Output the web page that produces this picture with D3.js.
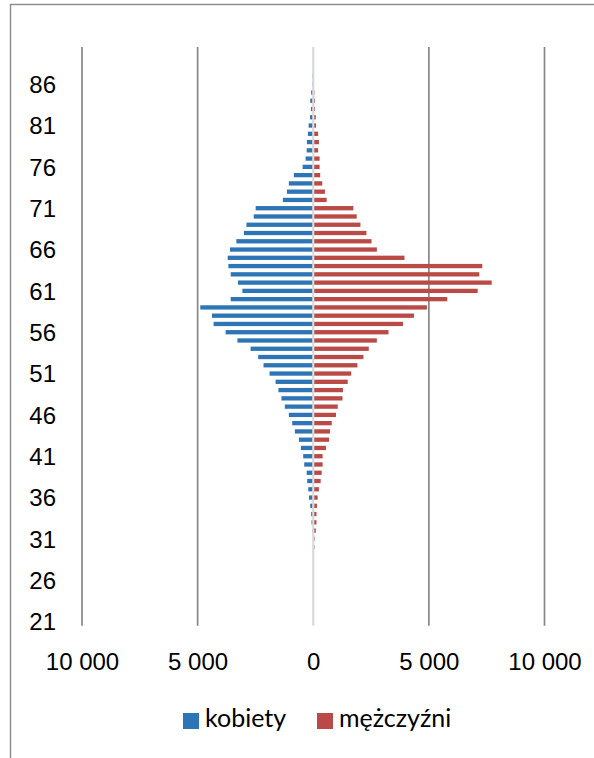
<!DOCTYPE html>
<html lang="pl">
<head>
  <meta charset="UTF-8" />
  <title>Piramida wieku: kobiety i mężczyźni</title>
  <script src="https://d3js.org/d3.v7.min.js"></script>
  <style>
    html, body { margin: 0; padding: 0; background: #fff; }
    svg { display: block; font-family: Lato, "Open Sans", sans-serif; }
    .tick-label { font-size: 24px; fill: #000; }
    .legend-label { font-size: 25px; fill: #000; }
  </style>
</head>
<body>
  <svg id="chart" width="594" height="758"></svg>

  <script>
    // Wiek (kategorie), od 21 do 90
    const ages = d3.range(21, 91);
    // Liczba kobiet w danym wieku (odczyt z wykresu)
    const kobiety = [
      0, 0, 0, 0, 0, 0, 0, 0, 0, 0,             // 21-30
      5, 30, 75, 90, 130, 185, 215, 260, 285, 390,  // 31-40
      435, 535, 620, 795, 910, 1055, 1230, 1375, 1505, 1630, // 41-50
      1890, 2150, 2380, 2710, 3280, 3790, 4310, 4380, 4885, 3570, // 51-60
      3065, 3255, 3570, 3670, 3700, 3600, 3325, 3000, 2890, 2575, // 61-70
      2490, 1315, 1140, 1055, 840, 460, 330, 285, 275, 230,  // 71-80
      200, 140, 100, 130, 90, 40, 40, 0, 0, 0        // 81-90
    ];
    // Liczba mężczyzn w danym wieku
    const mezczyzni = [
      0, 0, 0, 0, 0, 10, 15, 30, 30, 50,
      60, 110, 140, 140, 160, 190, 245, 320, 365, 405,
      405, 550, 680, 725, 800, 985, 1060, 1265, 1285, 1490,
      1640, 1910, 2170, 2400, 2750, 3255, 3880, 4355, 4915, 5795,
      7110, 7715, 7180, 7310, 3945, 2750, 2520, 2300, 2040, 1880,
      1735, 580, 505, 390, 300, 275, 275, 210, 245, 210,
      120, 110, 70, 70, 50, 30, 20, 0, 0, 0
    ];
    const xTicks = [-10000, -5000, 0, 5000, 10000];
    const yTickAges = d3.range(21, 91, 5);
    const seriesNames = ["kobiety", "mężczyźni"];
    const colors = ["#2e75b6", "#b94a45"];

    const svg = d3.select("#chart");

    // ramka wykresu (wychodzi poza prawą i dolną krawędź)
    svg.append("rect")
       .attr("x", 10.5).attr("y", 4.5)
       .attr("width", 700).attr("height", 800)
       .attr("fill", "none")
       .attr("stroke", "#8a8a8a")
       .attr("stroke-width", 1.4);

    // skale
    const x = d3.scaleLinear().domain([-10000, 10000]).range([82, 544.5]);
    const y = d3.scaleBand()
                .domain(ages.slice().reverse())
                .range([47, 625.7])
                .paddingInner(0.48)
                .paddingOuter(0.24);

    // linie siatki pionowej
    svg.append("g")
       .selectAll("line")
       .data(xTicks.filter(d => d !== 0))
       .enter().append("line")
       .attr("x1", d => x(d)).attr("x2", d => x(d))
       .attr("y1", 47).attr("y2", 625.7)
       .attr("stroke", "#878787")
       .attr("stroke-width", 1.7);

    // słupki: kobiety w lewo, mężczyźni w prawo
    const rows = ages.map((a, i) => ({ age: a, k: kobiety[i], m: mezczyzni[i] }));
    const bars = svg.append("g");
    bars.selectAll("rect.k")
        .data(rows)
        .enter().append("rect")
        .attr("class", "k")
        .attr("x", d => x(-d.k))
        .attr("y", d => y(d.age))
        .attr("width", d => x(0) - x(-d.k))
        .attr("height", y.bandwidth())
        .attr("fill", colors[0]);
    bars.selectAll("rect.m")
        .data(rows)
        .enter().append("rect")
        .attr("class", "m")
        .attr("x", x(0))
        .attr("y", d => y(d.age))
        .attr("width", d => x(d.m) - x(0))
        .attr("height", y.bandwidth())
        .attr("fill", colors[1]);

    // oś pionowa w zerze (jasnoszara)
    svg.append("line")
       .attr("x1", x(0)).attr("x2", x(0))
       .attr("y1", 47).attr("y2", 625.7)
       .attr("stroke", "#d9d9d9")
       .attr("stroke-width", 2.2);

    // etykiety osi Y (co 5 lat)
    const yAxis = d3.axisLeft(y).tickValues(yTickAges).tickSize(0).tickPadding(0);
    const gy = svg.append("g").attr("transform", "translate(56,0)").call(yAxis);
    gy.select(".domain").remove();
    gy.selectAll("text")
      .attr("class", "tick-label")
      .attr("font-family", null).attr("font-size", null)
      .attr("dy", "0.36em");

    // etykiety osi X (wartości bezwzględne, spacja jako separator tysięcy)
    const pl = d3.formatLocale({ decimal: ",", thousands: " ", grouping: [3], currency: ["", " zł"] });
    const fmt = pl.format(",");
    const xAxis = d3.axisBottom(x).tickValues(xTicks).tickSize(0).tickPadding(0)
                    .tickFormat(d => fmt(Math.abs(d)));
    const gx = svg.append("g").attr("transform", "translate(0,670)").call(xAxis);
    gx.select(".domain").remove();
    gx.selectAll("text")
      .attr("class", "tick-label")
      .attr("font-family", null).attr("font-size", null)
      .attr("dy", 0);

    // legenda
    const legendX = [183, 317];
    const legend = svg.append("g")
                      .selectAll("g")
                      .data(seriesNames)
                      .enter().append("g")
                      .attr("transform", (d, i) => `translate(${legendX[i]},713)`);
    legend.append("rect")
          .attr("width", 16).attr("height", 16)
          .attr("fill", (d, i) => colors[i]);
    legend.append("text")
          .attr("class", "legend-label")
          .attr("x", 22).attr("y", 14)
          .text(d => d);
  </script>
</body>
</html>
